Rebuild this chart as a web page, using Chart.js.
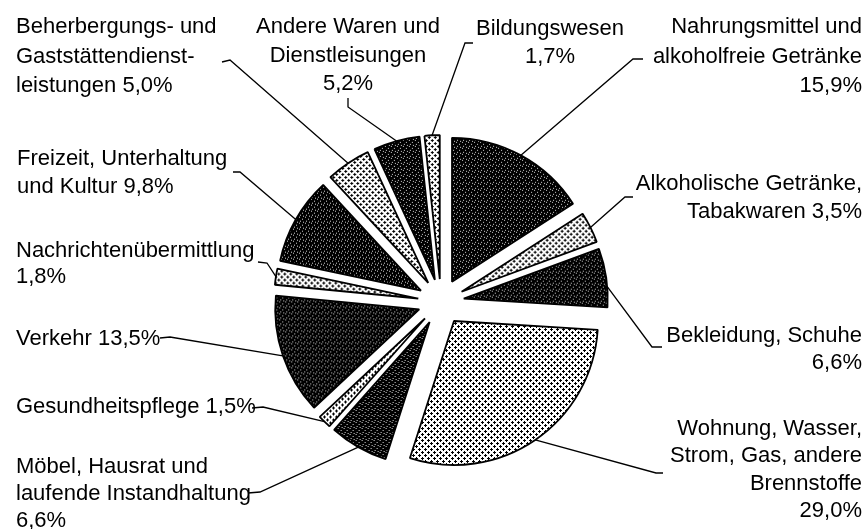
<!DOCTYPE html>
<html lang="de">
<head>
<meta charset="utf-8">
<script src="https://cdn.jsdelivr.net/npm/chart.js"></script>
<style>
  html, body { margin: 0; padding: 0; background: #fff; }
  #wrap { width: 868px; height: 529px; position: relative; }
</style>
</head>
<body>
<div id="wrap"><canvas id="pieChart" width="868" height="529"></canvas></div>
<script>
// Anteile der Konsumausgaben (im Uhrzeigersinn ab 12 Uhr)
const categories = [
    'Nahrungsmittel und alkoholfreie Getränke',
    'Alkoholische Getränke, Tabakwaren',
    'Bekleidung, Schuhe',
    'Wohnung, Wasser, Strom, Gas, andere Brennstoffe',
    'Möbel, Hausrat und laufende Instandhaltung',
    'Gesundheitspflege',
    'Verkehr',
    'Nachrichtenübermittlung',
    'Freizeit, Unterhaltung und Kultur',
    'Beherbergungs- und Gaststättendienstleistungen',
    'Andere Waren und Dienstleisungen',
    'Bildungswesen'
];
const shares = [15.9, 3.5, 6.6, 29.0, 6.6, 1.5, 13.5, 1.8, 9.8, 5.0, 5.2, 1.7];

// Beschriftung: Zeilen, {v} wird durch den Wert ersetzt
const labelLines = [
    ['Nahrungsmittel und', 'alkoholfreie Getränke', '{v}'],
    ['Alkoholische Getränke,', 'Tabakwaren {v}'],
    ['Bekleidung, Schuhe', '{v}'],
    ['Wohnung, Wasser,', 'Strom, Gas, andere', 'Brennstoffe', '{v}'],
    ['Möbel, Hausrat und', 'laufende Instandhaltung', '{v}'],
    ['Gesundheitspflege {v}'],
    ['Verkehr {v}'],
    ['Nachrichtenübermittlung', '{v}'],
    ['Freizeit, Unterhaltung', 'und Kultur {v}'],
    ['Beherbergungs- und', 'Gaststättendienst-', 'leistungen {v}'],
    ['Andere Waren und', 'Dienstleisungen', '{v}'],
    ['Bildungswesen', '{v}']
];

// Layout der Beschriftungen (x, erste Grundlinie, Zeilenabstand, Ausrichtung, Linie)
const labelLayout = [
    { x: 862, y: 33, lh: 29.5, align: 'right', lead: [[643, 59], [633, 59]] },
    { x: 862, y: 190, lh: 28, align: 'right', lead: [[633, 197], [625, 197]] },
    { x: 862, y: 342, lh: 27, align: 'right', lead: [[662, 347], [652, 347]], at: 0.65 },
    { x: 862, y: 435, lh: 27.3, align: 'right', lead: [[663, 473], [656, 473]] },
    { x: 16, y: 473, lh: 27, align: 'left', lead: [[248, 493], [260, 492]] },
    { x: 16, y: 413, lh: 27, align: 'left', lead: [[252, 408], [263, 407]] },
    { x: 16, y: 345, lh: 27, align: 'left', lead: [[160, 338], [170, 337]] },
    { x: 16, y: 257, lh: 26, align: 'left', lead: [[258, 262], [267, 263]] },
    { x: 17, y: 165, lh: 28, align: 'left', lead: [[233, 172], [240, 172]] },
    { x: 16, y: 33, lh: 29.5, align: 'left', lead: [[222, 62], [230, 60]] },
    { x: 348, y: 33, lh: 28.5, align: 'center', lead: [[348, 98], [348, 107]] },
    { x: 550, y: 35, lh: 28, align: 'center', lead: [[473, 43], [465, 43]] }
];

const EXPLODE = 23;
const FONT = '22px "Liberation Sans", Arial, sans-serif';

function makePattern(size, bg, fg, dots) {
    const c = document.createElement('canvas');
    c.width = size;
    c.height = size;
    const g = c.getContext('2d');
    g.fillStyle = bg;
    g.fillRect(0, 0, size, size);
    g.fillStyle = fg;
    dots.forEach(([x, y]) => g.fillRect(x, y, 1, 1));
    return g.createPattern(c, 'repeat');
}

// dunkel: schwarz mit wenigen hellen Punkten, hell: Punktraster
const dark = makePattern(6, '#000', '#d8d8d8', [[1, 0], [4, 2], [2, 4], [5, 5]]);
const light = makePattern(6, '#fff', '#000', [
    [1, 0], [0, 1], [1, 1], [2, 1], [1, 2],
    [4, 3], [3, 4], [4, 4], [5, 4], [4, 5]
]);
const fills = shares.map((_, i) => i % 2 === 0 ? dark : light);

function fmt(v) {
    return v.toFixed(1).replace('.', ',') + '%';
}

// Segmente entlang der Winkelhalbierenden verschieben
const explodePlugin = {
    id: 'explode',
    beforeDatasetDraw(chart, args) {
        const ctx = chart.ctx;
        args.meta.data.forEach(arc => {
            const mid = (arc.startAngle + arc.endAngle) / 2;
            ctx.save();
            ctx.translate(Math.cos(mid) * EXPLODE, Math.sin(mid) * EXPLODE);
            arc.draw(ctx, chart.chartArea);
            ctx.restore();
        });
        return false;
    }
};

const labelPlugin = {
    id: 'pieLabels',
    afterDraw(chart) {
        const ctx = chart.ctx;
        const arcs = chart.getDatasetMeta(0).data;
        ctx.save();
        ctx.font = FONT;
        ctx.fillStyle = '#000';
        ctx.strokeStyle = '#000';
        ctx.lineWidth = 1.3;
        ctx.textBaseline = 'alphabetic';
        labelLayout.forEach((lay, i) => {
            const arc = arcs[i];
            ctx.textAlign = lay.align;
            labelLines[i].forEach((line, j) => {
                ctx.fillText(line.replace('{v}', fmt(shares[i])), lay.x, lay.y + j * lay.lh);
            });
            const mid = (arc.startAngle + arc.endAngle) / 2;
            const a = arc.startAngle + (arc.endAngle - arc.startAngle) * (lay.at ?? 0.5);
            const ex = arc.x + Math.cos(mid) * EXPLODE + Math.cos(a) * arc.outerRadius;
            const ey = arc.y + Math.sin(mid) * EXPLODE + Math.sin(a) * arc.outerRadius;
            ctx.beginPath();
            ctx.moveTo(lay.lead[0][0], lay.lead[0][1]);
            ctx.lineTo(lay.lead[1][0], lay.lead[1][1]);
            ctx.lineTo(ex, ey);
            ctx.stroke();
        });
        ctx.restore();
    }
};

const ctx = document.getElementById('pieChart').getContext('2d');
new Chart(ctx, {
    type: 'pie',
    data: {
        labels: categories,
        datasets: [{
            data: shares,
            backgroundColor: fills,
            borderColor: '#000',
            borderWidth: 1.8
        }]
    },
    options: {
        responsive: false,
        animation: false,
        radius: 144,
        rotation: 0,
        layout: { padding: { left: 114, right: 100, top: 75, bottom: 0 } },
        plugins: {
            legend: { display: false },
            tooltip: { enabled: false },
            title: { display: false }
        },
        events: []
    },
    plugins: [explodePlugin, labelPlugin]
});
</script>
</body>
</html>
